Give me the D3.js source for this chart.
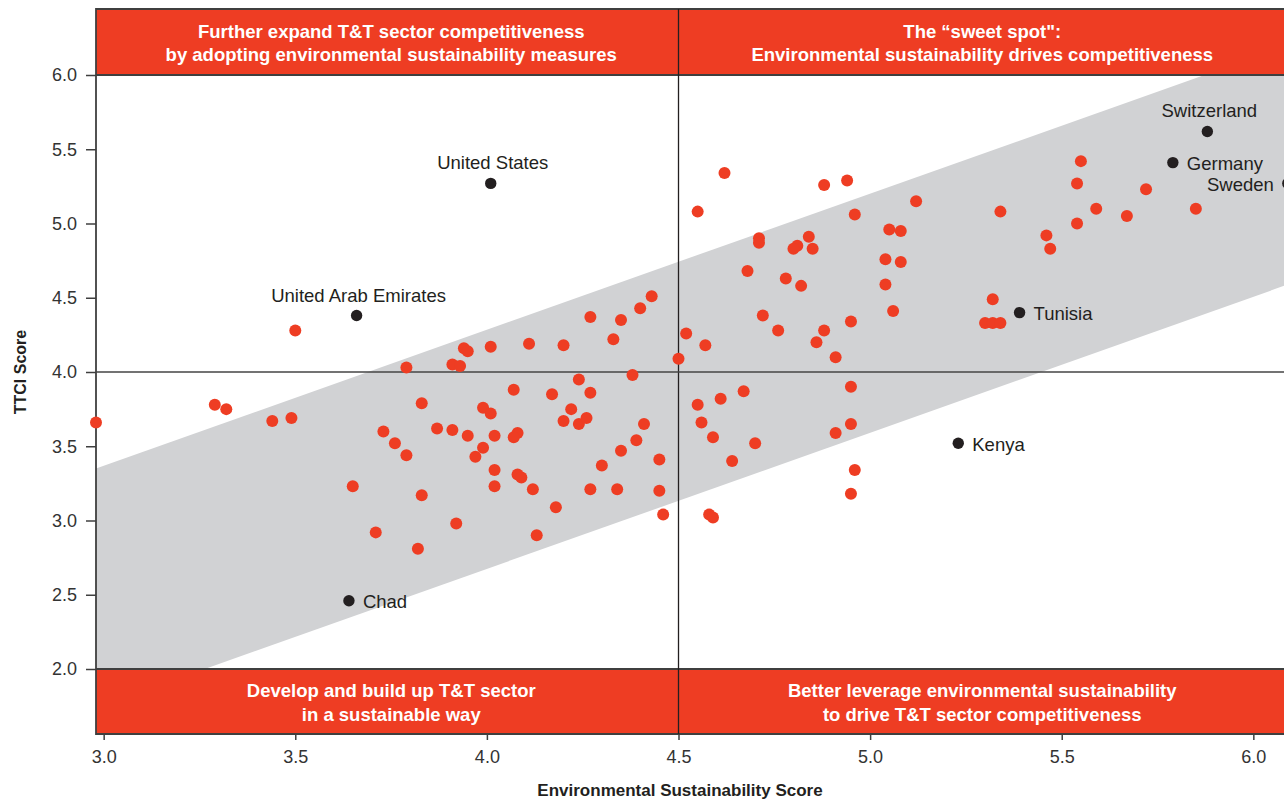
<!DOCTYPE html>
<html>
<head>
<meta charset="utf-8">
<script src="https://cdn.jsdelivr.net/npm/d3@7/dist/d3.min.js"></script>
<style>
  html, body { margin: 0; padding: 0; background: #ffffff; overflow: hidden; }
  svg { display: block; }
  text { font-family: "Liberation Sans", Arial, "DejaVu Sans", sans-serif; }
</style>
</head>
<body>
<svg id="chart" width="1284" height="800"></svg>
<script>
// ---------------- DATA ----------------
// Environmental Sustainability Score (x) and TTCI Score (y) of unlabelled economies
const esScore = [
  2.98, 3.29, 3.32, 3.44, 3.49, 3.50, 3.79, 3.94, 3.95, 3.91,
  3.93, 4.01, 3.83, 3.99, 4.01, 3.73, 3.76, 3.79, 3.87, 3.91,
  3.95, 4.02, 3.99, 3.97, 3.65, 3.83, 4.02, 3.92, 3.71, 3.82,
  4.11, 4.20, 4.27, 4.35, 4.33, 4.40, 4.43, 4.52, 4.50, 4.38,
  4.24, 4.07, 4.17, 4.27, 4.22, 4.20, 4.24, 4.26, 4.41, 4.08,
  4.07, 4.39, 4.35, 4.45, 4.30, 4.02, 4.08, 4.09, 4.12, 4.27,
  4.34, 4.45, 4.18, 4.46, 4.13, 4.62, 4.55, 4.88, 4.94, 5.12,
  5.34, 4.96, 4.71, 4.71, 4.84, 4.81, 4.80, 4.85, 5.05, 5.08,
  5.04, 5.08, 4.68, 4.78, 4.82, 5.04, 5.06, 5.32, 5.30, 5.32,
  5.34, 4.72, 4.76, 4.95, 4.88, 4.86, 4.91, 4.57, 4.95, 4.67,
  4.61, 4.55, 4.56, 4.59, 4.70, 4.95, 4.91, 4.64, 4.96, 4.95,
  4.58, 4.59, 5.55, 5.54, 5.72, 5.85, 5.59, 5.67, 5.54, 5.46,
  5.47
];
const ttciScore = [
  3.66, 3.78, 3.75, 3.67, 3.69, 4.28, 4.03, 4.16, 4.14, 4.05,
  4.04, 4.17, 3.79, 3.76, 3.72, 3.60, 3.52, 3.44, 3.62, 3.61,
  3.57, 3.57, 3.49, 3.43, 3.23, 3.17, 3.23, 2.98, 2.92, 2.81,
  4.19, 4.18, 4.37, 4.35, 4.22, 4.43, 4.51, 4.26, 4.09, 3.98,
  3.95, 3.88, 3.85, 3.86, 3.75, 3.67, 3.65, 3.69, 3.65, 3.59,
  3.56, 3.54, 3.47, 3.41, 3.37, 3.34, 3.31, 3.29, 3.21, 3.21,
  3.21, 3.20, 3.09, 3.04, 2.90, 5.34, 5.08, 5.26, 5.29, 5.15,
  5.08, 5.06, 4.90, 4.87, 4.91, 4.85, 4.83, 4.83, 4.96, 4.95,
  4.76, 4.74, 4.68, 4.63, 4.58, 4.59, 4.41, 4.49, 4.33, 4.33,
  4.33, 4.38, 4.28, 4.34, 4.28, 4.20, 4.10, 4.18, 3.90, 3.87,
  3.82, 3.78, 3.66, 3.56, 3.52, 3.65, 3.59, 3.40, 3.34, 3.18,
  3.04, 3.02, 5.42, 5.27, 5.23, 5.10, 5.10, 5.05, 5.00, 4.92,
  4.83
];

// Highlighted economies
const hlNames = ["United States", "United Arab Emirates", "Chad", "Kenya", "Tunisia", "Switzerland", "Germany", "Sweden"];
const hlES    = [4.01, 3.66, 3.64, 5.23, 5.39, 5.88, 5.79, 6.09];
const hlTTCI  = [5.27, 4.38, 2.46, 3.52, 4.40, 5.62, 5.41, 5.27];
const hlSide  = ["top", "top", "right", "right", "right", "top", "right", "left"];

// Shaded trend band (edges at both ends of the x range)
const bandX     = [2.98, 6.08];
const bandUpper = [3.35, 6.19];
const bandLower = [1.74, 4.58];

// Axis ticks
const xTicks = [3.0, 3.5, 4.0, 4.5, 5.0, 5.5, 6.0];
const yTicks = [2.0, 2.5, 3.0, 3.5, 4.0, 4.5, 5.0, 5.5, 6.0];

// Quadrant dividers
const xDivide = 4.5;
const yDivide = 4.0;

// Quadrant captions
const topLeftText     = ["Further expand T&T sector competitiveness", "by adopting environmental sustainability measures"];
const topRightText    = ["The \u201Csweet spot\":", "Environmental sustainability drives competitiveness"];
const bottomLeftText  = ["Develop and build up T&T sector", "in a sustainable way"];
const bottomRightText = ["Better leverage environmental sustainability", "to drive T&T sector competitiveness"];

const xTitle = "Environmental Sustainability Score";
const yTitle = "TTCI Score";

// ---------------- LAYOUT / STYLE ----------------
const ORANGE = "#ee3d23";
const GREY = "#d1d2d4";
const DARK = "#231f20";
const FRAME = "#3f3f3f";

const plotL = 96, plotR = 1284, plotT = 75, plotB = 669;
const bandTop = 9, bandBot = 734;

const x = d3.scaleLinear().domain([2.98, 6.08]).range([plotL, plotR]);
const y = d3.scaleLinear().domain([2, 6]).range([plotB, plotT]);

const svg = d3.select("#chart");

svg.append("rect").attr("width", 1284).attr("height", 800).attr("fill", "#fff");

// clip for the plot area
svg.append("defs").append("clipPath").attr("id", "plotClip")
  .append("rect").attr("x", plotL).attr("y", plotT)
  .attr("width", plotR - plotL).attr("height", plotB - plotT);

// grey band
const bandPts = [
  [x(bandX[0]), y(bandUpper[0])],
  [x(bandX[1]), y(bandUpper[1])],
  [x(bandX[1]), y(bandLower[1])],
  [x(bandX[0]), y(bandLower[0])]
];
svg.append("path")
  .attr("clip-path", "url(#plotClip)")
  .attr("d", d3.line()(bandPts) + "Z")
  .attr("fill", GREY);

// orange caption bands
svg.append("rect").attr("x", plotL).attr("y", bandTop)
  .attr("width", plotR - plotL).attr("height", plotT - bandTop).attr("fill", ORANGE);
svg.append("rect").attr("x", plotL).attr("y", plotB)
  .attr("width", plotR - plotL).attr("height", bandBot - plotB).attr("fill", ORANGE);

// frame lines
const frame = svg.append("g").attr("stroke", FRAME).attr("stroke-width", 1.8);
[bandTop, plotT, plotB, bandBot].forEach(v => {
  frame.append("line").attr("x1", plotL).attr("x2", plotR).attr("y1", v).attr("y2", v);
});
frame.append("line").attr("x1", plotL).attr("x2", plotL).attr("y1", bandTop - 0.9).attr("y2", bandBot + 0.9);

// quadrant dividers
svg.append("line")
  .attr("x1", x(xDivide)).attr("x2", x(xDivide))
  .attr("y1", bandTop).attr("y2", bandBot)
  .attr("stroke", DARK).attr("stroke-width", 1.3);
svg.append("line")
  .attr("x1", plotL).attr("x2", plotR)
  .attr("y1", y(yDivide)).attr("y2", y(yDivide))
  .attr("stroke", "#444").attr("stroke-width", 1.4);

// red points
svg.append("g").selectAll("circle")
  .data(esScore.map((d, i) => [d, ttciScore[i]]))
  .join("circle")
  .attr("cx", d => x(d[0]))
  .attr("cy", d => y(d[1]))
  .attr("r", 6)
  .attr("fill", ORANGE);

// highlighted points and labels
const hl = hlNames.map((n, i) => ({ name: n, es: hlES[i], ttci: hlTTCI[i], side: hlSide[i] }));
svg.append("g").selectAll("circle")
  .data(hl).join("circle")
  .attr("cx", d => x(d.es))
  .attr("cy", d => y(d.ttci))
  .attr("r", 5.7)
  .attr("fill", DARK);

svg.append("g").selectAll("text")
  .data(hl).join("text")
  .attr("x", d => d.side === "top" ? x(d.es) + 2 : d.side === "right" ? x(d.es) + 14 : x(d.es) - 14)
  .attr("y", d => d.side === "top" ? y(d.ttci) - 14 : y(d.ttci) + 1)
  .attr("dy", d => d.side === "top" ? 0 : "0.35em")
  .attr("text-anchor", d => d.side === "top" ? "middle" : d.side === "right" ? "start" : "end")
  .attr("font-size", 18.5)
  .attr("fill", DARK)
  .text(d => d.name);

// caption texts
function caption(lines, cx, cy) {
  const t = svg.append("text")
    .attr("text-anchor", "middle")
    .attr("font-size", 18.5)
    .attr("font-weight", "bold")
    .attr("fill", "#fff");
  lines.forEach((l, i) => {
    t.append("tspan").attr("x", cx).attr("y", cy + (i - 0.5) * 23.5).attr("dy", "0.36em").text(l);
  });
}
const midTop = (bandTop + plotT) / 2 + 1;
const midBot = (plotB + bandBot) / 2 + 1;
const leftC = (x(2.98) + x(xDivide)) / 2 + 4;
const rightC = (x(xDivide) + x(6.08)) / 2 + 1;
caption(topLeftText, leftC, midTop);
caption(topRightText, rightC, midTop);
caption(bottomLeftText, leftC, midBot);
caption(bottomRightText, rightC, midBot);

// axes
const yAxis = svg.append("g")
  .attr("transform", `translate(${plotL},0)`)
  .call(d3.axisLeft(y).tickValues(yTicks).tickFormat(d3.format(".1f")).tickSize(10).tickPadding(9));
yAxis.select(".domain").remove();
yAxis.selectAll("line").attr("stroke", FRAME).attr("stroke-width", 1.5);
yAxis.selectAll("text").attr("font-size", 18).attr("fill", "#333")
  .attr("font-family", "'Liberation Sans', Arial, sans-serif");

const xAxis = svg.append("g")
  .attr("transform", `translate(0,${bandBot})`)
  .call(d3.axisBottom(x).tickValues(xTicks).tickFormat(d3.format(".1f")).tickSize(6).tickPadding(10));
xAxis.select(".domain").remove();
xAxis.selectAll("line").attr("stroke", FRAME).attr("stroke-width", 1.5);
xAxis.selectAll("text").attr("font-size", 18).attr("fill", "#333")
  .attr("font-family", "'Liberation Sans', Arial, sans-serif");

// axis titles
svg.append("text")
  .attr("x", 680).attr("y", 790).attr("dy", "0.35em")
  .attr("text-anchor", "middle")
  .attr("font-size", 17).attr("font-weight", "bold").attr("fill", DARK)
  .text(xTitle);
svg.append("text")
  .attr("transform", `translate(20,${(plotT + plotB) / 2}) rotate(-90)`)
  .attr("dy", "0.35em")
  .attr("text-anchor", "middle")
  .attr("font-size", 16).attr("font-weight", "bold").attr("fill", DARK)
  .text(yTitle);
</script>
</body>
</html>
